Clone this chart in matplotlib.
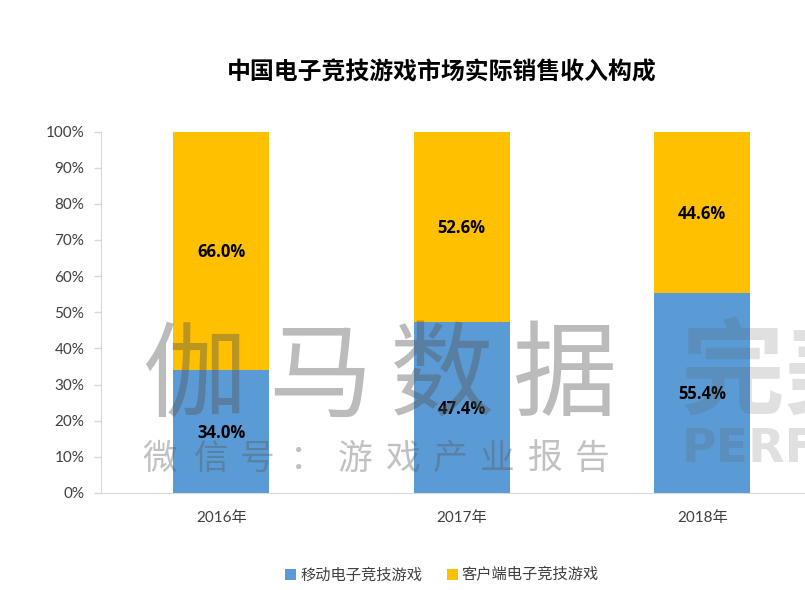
import matplotlib
matplotlib.use("Agg")
import matplotlib.pyplot as plt

plt.rcParams['font.family'] = ['Lato', 'Noto Sans CJK SC', 'DejaVu Sans']

years = ["2016年", "2017年", "2018年"]
mobile = [34.0, 47.4, 55.4]
pc = [66.0, 52.6, 44.6]
series_names = ["移动电子竞技游戏", "客户端电子竞技游戏"]
yticks = [0, 10, 20, 30, 40, 50, 60, 70, 80, 90, 100]
title = "中国电子竞技游戏市场实际销售收入构成"

W, H = 805, 590
fig = plt.figure(figsize=(W / 100, H / 100), dpi=100)
ax = fig.add_axes([101 / W, 1 - 493 / H, 721.5 / W, 361.5 / H])

x = range(len(years))
bars1 = ax.bar(x, mobile, width=0.4, color="#5B9BD5", label=series_names[0])
bars2 = ax.bar(x, pc, width=0.4, bottom=mobile, color="#FFC000", label=series_names[1])

ax.set_xlim(-0.5, 2.5)
ax.set_ylim(0, 100)
ax.set_xticks(list(x))
ax.set_xticklabels(years, fontsize=11, color="#404040")
ax.set_yticks(yticks)
ax.set_yticklabels([f"{v}%" for v in yticks], fontsize=11, color="#404040")
ax.tick_params(axis="x", length=0, pad=13)
ax.tick_params(axis="y", length=5, width=1, color="#D9D9D9", pad=7)
for side in ["top", "right"]:
    ax.spines[side].set_visible(False)
for side in ["left", "bottom"]:
    ax.spines[side].set_color("#D9D9D9")

# value labels, sit on top of the watermark
for i in x:
    ax.text(i, mobile[i] / 2 - 0.4, f"{mobile[i]:.1f}%", ha="center", va="center",
            fontsize=12, weight="bold", family="Open Sans", color="black", zorder=10)
    ax.text(i, mobile[i] + pc[i] / 2 - 0.4, f"{pc[i]:.1f}%", ha="center", va="center",
            fontsize=12, weight="bold", family="Open Sans", color="black", zorder=10)

fig.text(442 / W, 1 - 72 / H, title, ha="center", va="center", fontsize=17.2, weight="bold", color="black")

fig.legend(loc="center", bbox_to_anchor=(442 / W, 1 - 575 / H), ncol=2, frameon=False,
           fontsize=11, labelcolor="#404040", handlelength=0.75, handleheight=0.75,
           handletextpad=0.25, columnspacing=1.6)

# watermark
for ch, cx in zip("伽马数据", [195, 320, 442, 565]):
    fig.text(cx / W, 1 - 379 / H, ch, ha="center", va="center", fontsize=75,
             family="Noto Sans CJK SC", color="#555555", alpha=0.4, zorder=5)
for ch, cx in zip("微信号：游戏产业报告", [160, 211, 257, 307, 355, 402, 450, 497, 545, 592]):
    fig.text(cx / W, 1 - 459 / H, ch, ha="center", va="center", fontsize=25,
             family="Noto Sans CJK SC", color="#555555", alpha=0.36, zorder=5)
fig.text(680 / W, 1 - 376 / H, "完美", ha="left", va="center", fontsize=75, weight="bold",
         family="Noto Sans CJK SC", color="#555555", alpha=0.18, zorder=5)
fig.text(682 / W, 1 - 450 / H, "PERFECT", ha="left", va="center", fontsize=34, weight="bold",
         family="DejaVu Sans", color="#555555", alpha=0.18, zorder=5)

fig.savefig("out.png", dpi=100)
